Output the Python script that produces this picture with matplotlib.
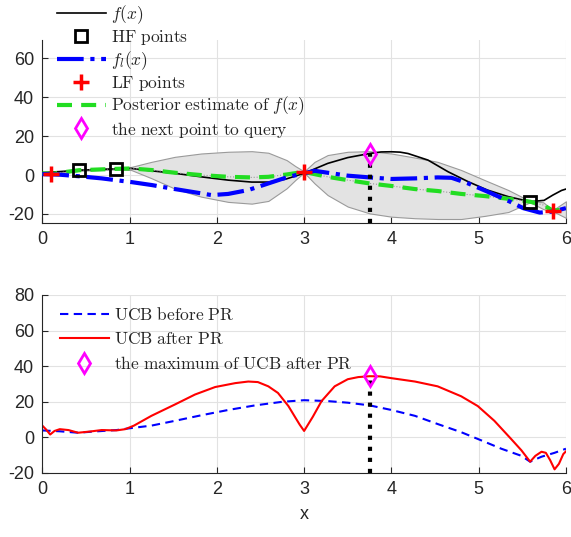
import matplotlib
matplotlib.use('Agg')
import matplotlib.pyplot as plt
from matplotlib.lines import Line2D

# ---- data ----
# true function f(x)
f_x = [0, 0.2, 0.42, 0.63, 0.84, 1.02, 1.25, 1.52, 1.82, 2.13, 2.4, 2.59, 2.78, 3.0,
       3.27, 3.5, 3.75, 3.88, 4.0, 4.1, 4.19, 4.42, 4.65, 4.88, 5.1, 5.34, 5.59, 5.75,
       5.85, 5.95, 6.0]
f_y = [1.3, 1.8, 2.5, 2.9, 3.2, 3.4, 2.2, 0.9, -0.9, -2.6, -3.6, -3.6, -2.2, 0.9,
       6.0, 9.0, 11.1, 11.9, 12.0, 11.8, 11.1, 7.7, 1.7, -3.4, -7.7, -11.1, -13.7, -13.0,
       -10.3, -7.9, -7.2]

# low fidelity function f_l(x)
fl_x = [0, 0.2, 0.42, 0.68, 1.02, 1.25, 1.52, 1.82, 1.94, 2.13, 2.36, 2.59, 2.82, 3.0,
        3.12, 3.27, 3.5, 3.75, 4.0, 4.27, 4.53, 4.69, 4.88, 5.1, 5.36, 5.51, 5.7, 5.85, 6.0]
fl_y = [0.5, 0.2, -0.6, -1.7, -3.6, -5.1, -7.2, -9.4, -10.3, -9.7, -7.7, -4.3, -0.9, 0.9,
        2.2, 1.2, -0.3, -1.2, -2.0, -1.7, -1.2, -1.4, -4.3, -8.5, -13.7, -17.0, -19.3, -18.8, -17.0]

# posterior mean and band
post_x = [0, 0.1, 0.42, 0.84, 1.02, 1.25, 1.52, 1.82, 2.13, 2.4, 2.59, 2.8, 2.9, 3.0, 3.12,
          3.27, 3.5, 3.75, 4.0, 4.27, 4.53, 4.8, 5.07, 5.34, 5.59, 5.74, 5.85, 6.0]
post_mean = [0.9, 0.6, 2.5, 3.2, 3.4, 2.6, 1.2, 0.0, -0.9, -1.2, -0.9, 0.3, 1.0, 1.6, 0.5,
             -0.9, -2.6, -4.3, -5.6, -7.2, -8.2, -9.7, -10.8, -12.2, -13.7, -15.4, -18.3, -17.6]
post_upper = [1.3, 1.0, 2.8, 3.5, 4.2, 6.8, 9.4, 11.1, 12.0, 12.3, 11.5, 7.7, 4.6, 1.9, 6.8,
              10.3, 12.0, 12.3, 11.1, 9.0, 6.8, 2.6, -2.6, -7.7, -13.4, -14.0, -18.0, -13.5]
post_lower = [0.5, 0.2, 2.2, 2.9, 2.6, -1.6, -7.0, -11.1, -13.8, -14.7, -13.3, -6.8, -2.5, 1.3, -4.3,
              -10.3, -16.2, -19.7, -21.4, -22.2, -22.6, -22.6, -21.0, -19.0, -14.0, -17.5, -18.6, -22.0]

hf_x = [0.42, 0.84, 5.59]
hf_y = [2.5, 3.2, -13.7]
lf_x = [0.1, 3.0, 5.85]
lf_y = [0.5, 1.5, -18.3]

next_x = 3.76
next_y = 11.0
ucb_max = 34.5

# acquisition functions
ucb_before_x = [0, 0.2, 0.41, 0.6, 0.85, 1.0, 1.25, 1.52, 1.82, 2.13, 2.44, 2.75, 3.0,
                3.27, 3.5, 3.75, 4.0, 4.27, 4.53, 4.8, 5.03, 5.26, 5.49, 5.59, 5.72, 5.87, 6.0]
ucb_before_y = [3.8, 3.3, 2.5, 3.2, 4.0, 5.0, 6.5, 9.2, 12.3, 15.3, 17.9, 19.9, 20.8,
                20.3, 19.4, 17.9, 15.3, 12.0, 7.4, 2.8, -1.8, -6.5, -10.5, -13.8, -11.0, -8.8, -6.5]

ucb_after_x = [0, 0.04, 0.09, 0.14, 0.2, 0.3, 0.41, 0.55, 0.68, 0.85, 0.95, 1.05, 1.25,
               1.52, 1.75, 1.98, 2.21, 2.36, 2.47, 2.59, 2.7, 2.82, 2.9, 2.95, 3.0, 3.05,
               3.1, 3.2, 3.35, 3.5, 3.62, 3.75, 3.87, 4.0, 4.27, 4.53, 4.8, 4.99, 5.18,
               5.37, 5.49, 5.59, 5.65, 5.72, 5.77, 5.82, 5.87, 5.92, 5.97, 6.0]
ucb_after_y = [6.5, 4.5, 1.5, 3.5, 4.5, 4.0, 2.5, 3.2, 4.0, 3.8, 4.5, 6.5, 12.0,
               18.4, 24.0, 28.2, 30.4, 31.3, 31.0, 28.6, 24.9, 17.5, 11.0, 7.0, 3.5, 7.5,
               11.5, 20.3, 28.6, 32.6, 33.8, 34.3, 34.2, 33.2, 31.3, 28.6, 23.0, 17.5, 9.2,
               -0.9, -7.4, -13.8, -10.5, -8.2, -8.8, -13.0, -18.1, -15.0, -9.5, -8.0]

# ---- style ----
plt.rcParams['font.family'] = ['Liberation Sans', 'DejaVu Sans']
plt.rcParams['mathtext.fontset'] = 'cm'
plt.rcParams['axes.unicode_minus'] = False

TXT = '#262626'
GRID = '#e2e2e2'
GREEN_DASH = (3.6, 2.2)
BLUE_DASH = (4, 2.6)


def style_axes(ax, ylim, yticks):
    ax.set_xlim(0, 6)
    ax.set_ylim(*ylim)
    ax.set_xticks(range(7))
    ax.set_yticks(yticks)
    ax.grid(True, color=GRID, lw=0.8)
    ax.set_axisbelow(True)
    for side in ('top', 'right'):
        ax.spines[side].set_visible(False)
    for side in ('left', 'bottom'):
        ax.spines[side].set_color(TXT)
        ax.spines[side].set_linewidth(0.8)
    ax.tick_params(direction='in', length=4, width=0.8, colors=TXT,
                   labelsize=13, pad=6)


fig = plt.figure(figsize=(5.71, 5.37), dpi=100)
ax1 = fig.add_axes([0.0741, 0.5853, 0.917, 0.3402])
ax2 = fig.add_axes([0.0741, 0.1197, 0.917, 0.3310])

# ---- top panel ----
ax1.fill_between(post_x, post_lower, post_upper, facecolor='#e3e3e3',
                 edgecolor='#9a9a9a', lw=0.8, zorder=1)
ax1.plot(f_x, f_y, color='k', lw=1.2, zorder=3)
ax1.plot(post_x, post_mean, color='#999999', lw=0.8, ls=':', zorder=3)
ax1.plot(post_x, post_mean, color='#22dd22', lw=3, dashes=GREEN_DASH, zorder=4)
ax1.plot(fl_x, fl_y, color='#0000ff', lw=3, ls='-.', zorder=5)
ax1.plot([next_x, next_x], [-24.5, next_y], color='k', lw=3, ls=':', zorder=6)
ax1.plot(hf_x, hf_y, 's', ms=8.5, mfc='none', mec='k', mew=2, zorder=7)
ax1.plot(lf_x, lf_y, '+', ms=12, mec='#ff0000', mew=2.5, zorder=7)
ax1.plot([next_x], [next_y], 'd', ms=10, mfc='none', mec='#ff00ff', mew=2, zorder=8)
style_axes(ax1, (-24.5, 69.5), [-20, 0, 20, 40, 60])

h_top = [
    Line2D([], [], color='k', lw=1.2),
    Line2D([], [], ls='none', marker='s', ms=8.5, mfc='none', mec='k', mew=2),
    Line2D([], [], color='#0000ff', lw=3, ls='-.'),
    Line2D([], [], ls='none', marker='+', ms=12, mec='#ff0000', mew=2.5),
    Line2D([], [], color='#22dd22', lw=3, dashes=GREEN_DASH),
    Line2D([], [], ls='none', marker='d', ms=10, mfc='none', mec='#ff00ff', mew=2),
]
l_top = [r'$f(x)$', r'$\mathrm{HF\ points}$', r'$f_l(x)$', r'$\mathrm{LF\ points}$',
         r'$\mathrm{Posterior\ estimate\ of\ }f(x)$', r'$\mathrm{the\ next\ point\ to\ query}$']
leg1 = ax1.legend(h_top, l_top, loc='upper left', bbox_to_anchor=(57 / 571, 1 - 3 / 537),
                  bbox_transform=fig.transFigure, frameon=False, fontsize=12.5,
                  handlelength=2.8, handletextpad=0.3, labelspacing=0.12,
                  borderpad=0, borderaxespad=0)
for t in leg1.get_texts():
    t.set_color(TXT)

# ---- bottom panel ----
ax2.plot(ucb_before_x, ucb_before_y, color='#0000ff', lw=1.5, dashes=BLUE_DASH)
ax2.plot(ucb_after_x, ucb_after_y, color='#ff0000', lw=1.5)
ax2.plot([next_x, next_x], [-20, ucb_max], color='k', lw=3, ls=':', zorder=6)
ax2.plot([next_x], [ucb_max], 'd', ms=10, mfc='none', mec='#ff00ff', mew=2, zorder=8)
style_axes(ax2, (-20, 80), [-20, 0, 20, 40, 60, 80])
ax2.set_xlabel('x', fontsize=13, color=TXT, labelpad=6)

h_bot = [
    Line2D([], [], color='#0000ff', lw=1.5, dashes=BLUE_DASH),
    Line2D([], [], color='#ff0000', lw=1.5),
    Line2D([], [], ls='none', marker='d', ms=10, mfc='none', mec='#ff00ff', mew=2),
]
l_bot = [r'$\mathrm{UCB\ before\ PR}$', r'$\mathrm{UCB\ after\ PR}$',
         r'$\mathrm{the\ maximum\ of\ UCB\ after\ PR}$']
leg2 = ax2.legend(h_bot, l_bot, loc='upper left', bbox_to_anchor=(60 / 571, 1 - 306 / 537),
                  bbox_transform=fig.transFigure, frameon=False, fontsize=12.5,
                  handlelength=2.8, handletextpad=0.3, labelspacing=0.45,
                  borderpad=0, borderaxespad=0)
for t in leg2.get_texts():
    t.set_color(TXT)

fig.savefig('out.png', dpi=100)
